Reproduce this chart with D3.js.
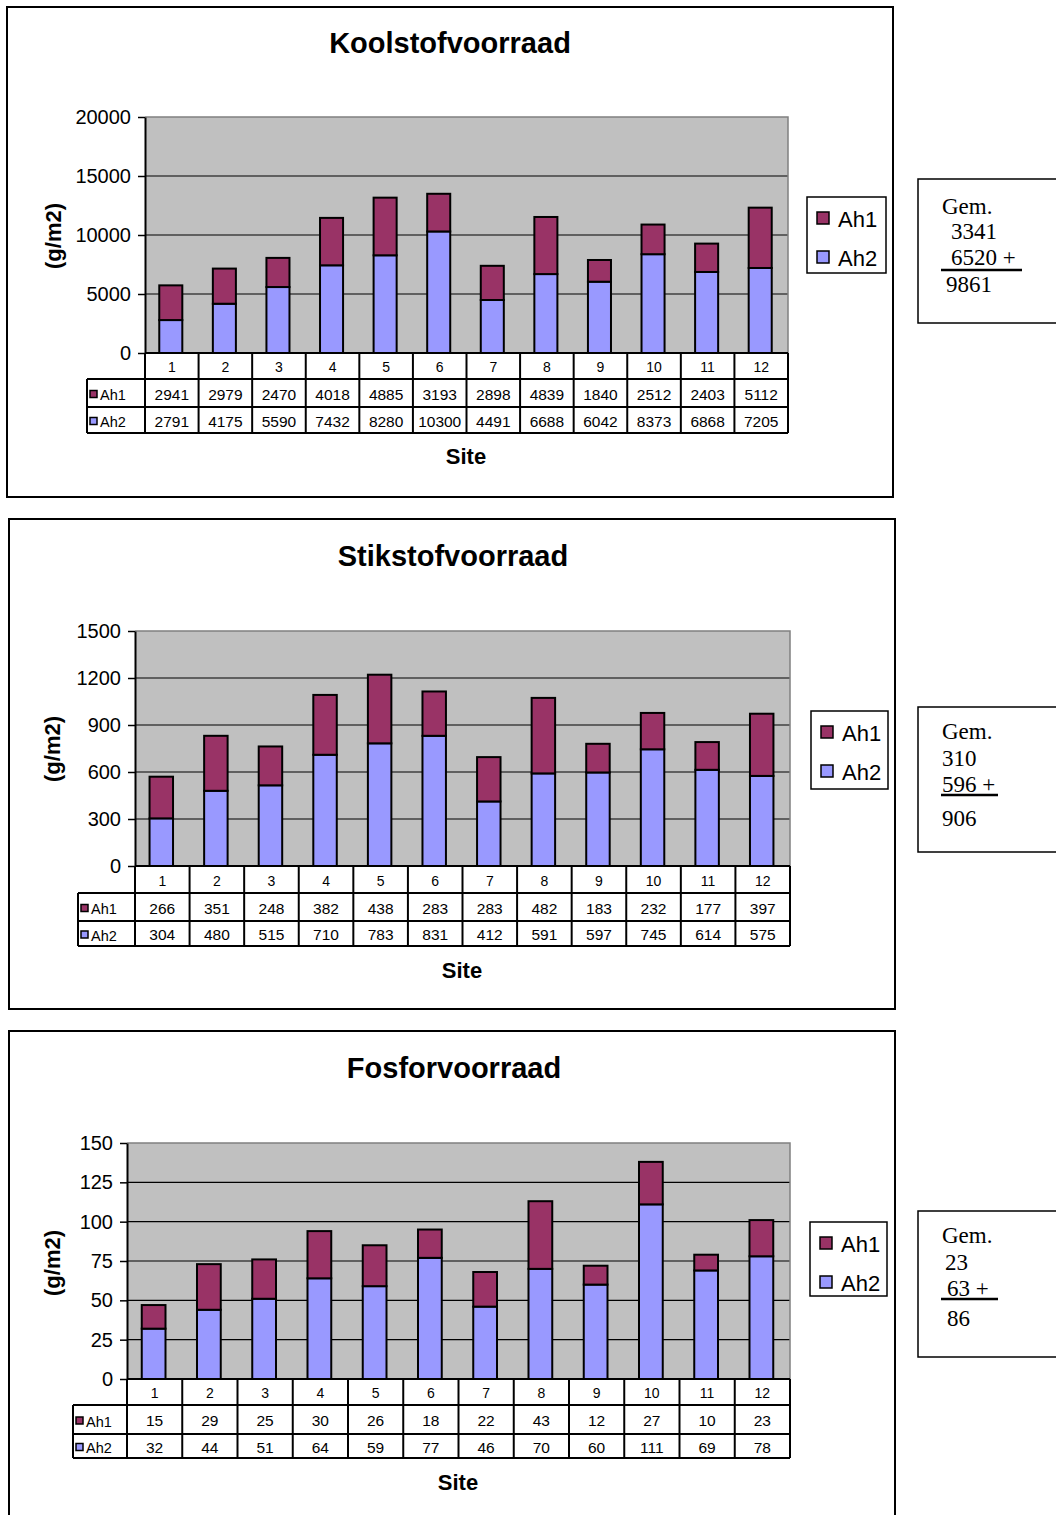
<!DOCTYPE html>
<html>
<head>
<meta charset="utf-8">
<script src="https://cdn.jsdelivr.net/npm/d3@7"></script>
<style>
  html, body { margin: 0; padding: 0; background: #fff; }
  svg { display: block; }
</style>
</head>
<body>
<script>
// Sites (1..12) shared by all three charts
const sites = ["1","2","3","4","5","6","7","8","9","10","11","12"];
const seriesNames = ["Ah1", "Ah2"];

// Carbon stock per layer (g/m2)
const koolstofAh1 = [2941, 2979, 2470, 4018, 4885, 3193, 2898, 4839, 1840, 2512, 2403, 5112];
const koolstofAh2 = [2791, 4175, 5590, 7432, 8280, 10300, 4491, 6688, 6042, 8373, 6868, 7205];
const koolstofTicks = [0, 5000, 10000, 15000, 20000];
const koolstofGem = ["3341", "6520 +", "9861"];

// Nitrogen stock per layer (g/m2)
const stikstofAh1 = [266, 351, 248, 382, 438, 283, 283, 482, 183, 232, 177, 397];
const stikstofAh2 = [304, 480, 515, 710, 783, 831, 412, 591, 597, 745, 614, 575];
const stikstofTicks = [0, 300, 600, 900, 1200, 1500];
const stikstofGem = ["310", "596 +", "906"];

// Phosphorus stock per layer (g/m2)
const fosforAh1 = [15, 29, 25, 30, 26, 18, 22, 43, 12, 27, 10, 23];
const fosforAh2 = [32, 44, 51, 64, 59, 77, 46, 70, 60, 111, 69, 78];
const fosforTicks = [0, 25, 50, 75, 100, 125, 150];
const fosforGem = ["23", "63 +", "86"];

const COLORS = { Ah1: "#993366", Ah2: "#9999FF" };
const SANS = "'Liberation Sans', Arial, sans-serif";
const SERIF = "'Liberation Serif', 'Times New Roman', serif";

const svg = d3.select("body").append("svg")
  .attr("width", 1056).attr("height", 1515);

const charts = [
  {
    title: "Koolstofvoorraad", ah1: koolstofAh1, ah2: koolstofAh2, ticks: koolstofTicks, gem: koolstofGem,
    box: [7, 7, 893, 497], titleY: 53, titleX: 450,
    plot: [145, 117, 788, 353], rows: [379, 407, 433], tableLeft: 87,
    ylabel: [53, 236], siteXY: [466, 464],
    legend: [807, 197, 886, 273],
    side: [918, 179, 323], gemX: [942, 951, 951, 946], gemY: [214, 239, 265, 292], rule: [941, 1022, 270]
  },
  {
    title: "Stikstofvoorraad", ah1: stikstofAh1, ah2: stikstofAh2, ticks: stikstofTicks, gem: stikstofGem,
    box: [9, 519, 895, 1009], titleY: 566, titleX: 453,
    plot: [135, 631, 790, 866], rows: [893, 921, 946], tableLeft: 78,
    ylabel: [52, 749], siteXY: [462, 978],
    legend: [811, 711, 888, 789],
    side: [918, 707, 852], gemX: [942, 942, 942, 942], gemY: [739, 766, 792, 826], rule: [941, 998, 795]
  },
  {
    title: "Fosforvoorraad", ah1: fosforAh1, ah2: fosforAh2, ticks: fosforTicks, gem: fosforGem,
    box: [9, 1031, 895, 1540], titleY: 1078, titleX: 454,
    plot: [127, 1143, 790, 1379], rows: [1405, 1434, 1458], tableLeft: 73,
    ylabel: [52, 1263], siteXY: [458, 1490],
    legend: [810, 1222, 887, 1296],
    side: [918, 1211, 1357], gemX: [942, 945, 947, 947], gemY: [1243, 1270, 1296, 1326], rule: [941, 998, 1299]
  }
];

charts.forEach(drawChart);

function drawChart(c) {
  const g = svg.append("g");
  const [px0, py0, px1, py1] = c.plot;

  // Chart frame
  g.append("rect")
    .attr("x", c.box[0]).attr("y", c.box[1])
    .attr("width", c.box[2] - c.box[0]).attr("height", c.box[3] - c.box[1])
    .attr("fill", "#fff").attr("stroke", "#000").attr("stroke-width", 2);

  // Title
  g.append("text").attr("x", c.titleX).attr("y", c.titleY)
    .attr("text-anchor", "middle").attr("font-family", SANS)
    .attr("font-size", 29).attr("font-weight", "bold").text(c.title);

  const x = d3.scaleBand().domain(sites).range([px0, px1]).padding(0);
  const y = d3.scaleLinear().domain([0, d3.max(c.ticks)]).range([py1, py0]);

  // Plot background
  g.append("rect").attr("x", px0).attr("y", py0)
    .attr("width", px1 - px0).attr("height", py1 - py0)
    .attr("fill", "#C0C0C0");

  // Gridlines
  g.append("g").selectAll("line")
    .data(c.ticks.filter(t => t > 0 && t < d3.max(c.ticks)))
    .join("line")
    .attr("x1", px0).attr("x2", px1)
    .attr("y1", d => y(d)).attr("y2", d => y(d))
    .attr("stroke", "#000").attr("stroke-width", 1.2);

  // Plot border (top / right)
  g.append("path")
    .attr("d", `M${px0},${py0}H${px1}V${py1}`)
    .attr("fill", "none").attr("stroke", "#808080").attr("stroke-width", 1.5);

  // Stacked bars: Ah2 at the bottom, Ah1 on top
  const rows = sites.map((s, i) => ({ site: s, Ah1: c.ah1[i], Ah2: c.ah2[i] }));
  const stack = d3.stack().keys(["Ah2", "Ah1"])(rows);
  const bw = x.bandwidth() * 0.43;
  g.append("g").selectAll("g")
    .data(stack).join("g")
    .attr("fill", d => COLORS[d.key])
    .selectAll("rect").data(d => d).join("rect")
    .attr("x", d => x(d.data.site) + (x.bandwidth() - bw) / 2 - 1)
    .attr("width", bw)
    .attr("y", d => y(d[1]))
    .attr("height", d => y(d[0]) - y(d[1]))
    .attr("stroke", "#000").attr("stroke-width", 2);

  // Y axis
  const yAxis = g.append("g").attr("transform", `translate(${px0},0)`)
    .call(d3.axisLeft(y).tickValues(c.ticks).tickFormat(d3.format("d"))
      .tickSize(7).tickSizeOuter(0).tickPadding(7));
  yAxis.select(".domain").attr("stroke", "#000").attr("stroke-width", 2);
  yAxis.selectAll(".tick line").attr("stroke", "#000").attr("stroke-width", 1.5);
  yAxis.selectAll(".tick text").attr("font-family", SANS).attr("font-size", 20).attr("fill", "#000");

  // Y axis title
  g.append("text")
    .attr("transform", `translate(${c.ylabel[0]},${c.ylabel[1]}) rotate(-90)`)
    .attr("text-anchor", "middle").attr("dominant-baseline", "central")
    .attr("font-family", SANS).attr("font-size", 22).attr("font-weight", "bold")
    .text("(g/m2)");

  // Data table
  const [r1, r2, r3] = c.rows;
  const tl = c.tableLeft;
  const tbl = g.append("g").attr("stroke", "#000").attr("stroke-width", 2);
  tbl.append("line").attr("x1", px0).attr("x2", px1).attr("y1", py1).attr("y2", py1);
  [r1, r2, r3].forEach(ry => {
    tbl.append("line").attr("x1", tl).attr("x2", px1).attr("y1", ry).attr("y2", ry);
  });
  tbl.append("line").attr("x1", tl).attr("x2", tl).attr("y1", r1).attr("y2", r3);
  const bounds = sites.map(s => x(s)).concat([px1]);
  tbl.selectAll(".vl").data(bounds).join("line").attr("class", "vl")
    .attr("x1", d => d).attr("x2", d => d).attr("y1", py1).attr("y2", r3);

  // Category labels
  g.append("g").selectAll("text").data(sites).join("text")
    .attr("x", d => x(d) + x.bandwidth() / 2)
    .attr("y", (py1 + r1) / 2 + 1)
    .attr("text-anchor", "middle").attr("dominant-baseline", "central")
    .attr("font-family", SANS).attr("font-size", 14).text(d => d);

  // Value rows
  const valueRows = [
    { key: "Ah1", vals: c.ah1, top: r1, bot: r2 },
    { key: "Ah2", vals: c.ah2, top: r2, bot: r3 }
  ];
  valueRows.forEach(vr => {
    const cy = (vr.top + vr.bot) / 2 + 1;
    g.append("g").selectAll("text").data(vr.vals).join("text")
      .attr("x", (d, i) => x(sites[i]) + x.bandwidth() / 2)
      .attr("y", cy)
      .attr("text-anchor", "middle").attr("dominant-baseline", "central")
      .attr("font-family", SANS).attr("font-size", 15.5).text(d => d);
    g.append("rect")
      .attr("x", tl + 3).attr("y", cy - 3.5).attr("width", 7).attr("height", 7)
      .attr("fill", COLORS[vr.key]).attr("stroke", "#000").attr("stroke-width", 1.5);
    g.append("text")
      .attr("x", tl + 13).attr("y", cy + 1)
      .attr("dominant-baseline", "central")
      .attr("font-family", SANS).attr("font-size", 14.5).text(vr.key);
  });

  // X axis title
  g.append("text").attr("x", c.siteXY[0]).attr("y", c.siteXY[1])
    .attr("text-anchor", "middle").attr("font-family", SANS)
    .attr("font-size", 22).attr("font-weight", "bold").text("Site");

  // Legend
  const [lx0, ly0, lx1, ly1] = c.legend;
  g.append("rect").attr("x", lx0).attr("y", ly0)
    .attr("width", lx1 - lx0).attr("height", ly1 - ly0)
    .attr("fill", "#fff").attr("stroke", "#000").attr("stroke-width", 1.5);
  seriesNames.forEach((name, i) => {
    const cy = ly0 + 21 + i * 39;
    g.append("rect").attr("x", lx0 + 10).attr("y", cy - 6)
      .attr("width", 12).attr("height", 12)
      .attr("fill", COLORS[name]).attr("stroke", "#000").attr("stroke-width", 1.5);
    g.append("text").attr("x", lx0 + 31).attr("y", cy + 1)
      .attr("dominant-baseline", "central")
      .attr("font-family", SANS).attr("font-size", 22).text(name);
  });

  // Average box
  const [sx0, sy0, sy1] = c.side;
  g.append("rect").attr("x", sx0).attr("y", sy0)
    .attr("width", 160).attr("height", sy1 - sy0)
    .attr("fill", "#fff").attr("stroke", "#000").attr("stroke-width", 1.5);
  const gemLines = ["Gem."].concat(c.gem);
  gemLines.forEach((t, i) => {
    g.append("text").attr("x", c.gemX[i]).attr("y", c.gemY[i])
      .attr("font-family", SERIF).attr("font-size", 23).text(t);
  });
  g.append("line")
    .attr("x1", c.rule[0]).attr("x2", c.rule[1])
    .attr("y1", c.rule[2]).attr("y2", c.rule[2])
    .attr("stroke", "#000").attr("stroke-width", 2.5);
}
</script>
</body>
</html>
